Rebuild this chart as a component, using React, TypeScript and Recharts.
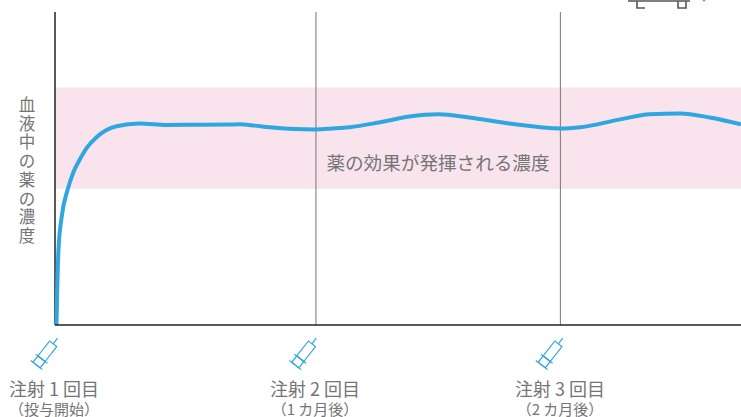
import React from "react";
import { ComposedChart, Line, XAxis, YAxis, ReferenceArea, ReferenceLine } from "recharts";

const days = [0.17, 0.23, 0.4, 0.75, 1.44, 2.13, 2.82, 3.74, 4.78, 5.93, 7.08, 9.73, 12.85, 16.65, 21.26, 23, 24.7, 27, 30, 32, 33.9, 37.3, 40.8, 44.2, 47.7, 52.3, 58.2, 60.5, 65.1, 68.5, 72, 75.4, 79];
const concentration = [0, 8, 24, 34.2, 43.1, 48.9, 52.7, 56.9, 60, 62.3, 63.5, 64.4, 63.9, 64, 64.1, 63.7, 63.2, 62.7, 62.5, 62.8, 63.2, 64.7, 66.6, 67.3, 66.3, 64.4, 62.8, 63.2, 65.7, 67.3, 67.6, 66.3, 64.1];
const table = days.map((day, i) => ({ day, value: concentration[i] }));

const bandLow = 43.5;
const bandHigh = 75.9;
const bandLabel = "薬の効果が発揮される濃度";
const injectionDays = [0.6, 30.05, 58.2];
const tickMain = ["注射 1 回目", "注射 2 回目", "注射 3 回目"];
const tickSub = ["（投与開始）", "（1 カ月後）", "（2 カ月後）"];
const yLabel = ["血", "液", "中", "の", "薬", "の", "濃", "度"];

const FONT = '"Noto Sans CJK JP", "Noto Sans", sans-serif';
const TEXT = "#757575";
const BLUE = "#2ea7e0";

function InjectionTick({ x, y, index }: any) {
  const tx = index === 0 ? 54 : index === 1 ? 315 : 560;
  const dx = tx - x;
  return (
    <g>
      <g transform={`translate(${x + (index === 0 ? -15 : index === 1 ? -12 : -10)},${y + 21}) rotate(38)`} fill="none" stroke={BLUE} strokeWidth={1.2}>
        <rect x={-4.5} y={-13} width={9} height={19} />
        <rect x={-4.5} y={6} width={9} height={8} />
        <path d="M-7.5 6H7.5M-7.5 14H7.5M0 -13V-20" />
      </g>
      <text x={x + dx} y={y + 63} textAnchor="middle" fontFamily={FONT} fontSize={18} fill={TEXT}>{tickMain[index]}</text>
      <text x={x + dx} y={y + 82} textAnchor="middle" fontFamily={FONT} fontSize={15} fill={TEXT}>{tickSub[index]}</text>
    </g>
  );
}

function YLabel({ viewBox }: any) {
  return (
    <g>
      {yLabel.map((c, i) => (
        <text key={i} x={viewBox.x - 28} y={viewBox.y + 99 + i * 18.7} textAnchor="middle" fontFamily={FONT} fontSize={16.5} fill={TEXT}>{c}</text>
      ))}
    </g>
  );
}

function BandLabel({ viewBox }: any) {
  return (
    <text x={viewBox.x + 383} y={viewBox.y + 83} textAnchor="middle" fontFamily={FONT} fontSize={18.6} fill={TEXT}>{bandLabel}</text>
  );
}

export default function App() {
  return (
    <div style={{ position: "absolute", left: 0, top: 0, width: 741, height: 417, background: "#fff" }}>
      <ComposedChart width={741} height={417} data={table} margin={{ top: 12, right: 0, bottom: 0, left: 55 }}>
        <XAxis type="number" dataKey="day" domain={[0, 79]} ticks={injectionDays} interval={0} tick={<InjectionTick />} tickLine={false} axisLine={{ stroke: "#222", strokeWidth: 1.5 }} height={92} />
        <YAxis type="number" domain={[0, 100]} hide width={0} />
        <ReferenceArea x1={0} x2={79} y1={bandLow} y2={bandHigh} fill="#f9e4ed" fillOpacity={1} stroke="none" label={<BandLabel />} />
        <ReferenceLine x={0} stroke="#222" strokeWidth={1.5} label={<YLabel />} />
        <ReferenceLine x={injectionDays[1]} stroke="#777" strokeWidth={1} />
        <ReferenceLine x={injectionDays[2]} stroke="#777" strokeWidth={1} />
        <Line type="monotone" dataKey="value" stroke={BLUE} strokeWidth={4} dot={false} isAnimationActive={false} />
      </ComposedChart>
      <svg width={741} height={14} style={{ position: "absolute", left: 0, top: 0 }} fill="none" stroke="#555" strokeWidth={1.6}>
        <path d="M628 1H690M637 1V8H645M678 1V8H686V1" />
        <circle cx={704} cy={0} r={1.5} fill="#e8803a" stroke="none" />
      </svg>
    </div>
  );
}
